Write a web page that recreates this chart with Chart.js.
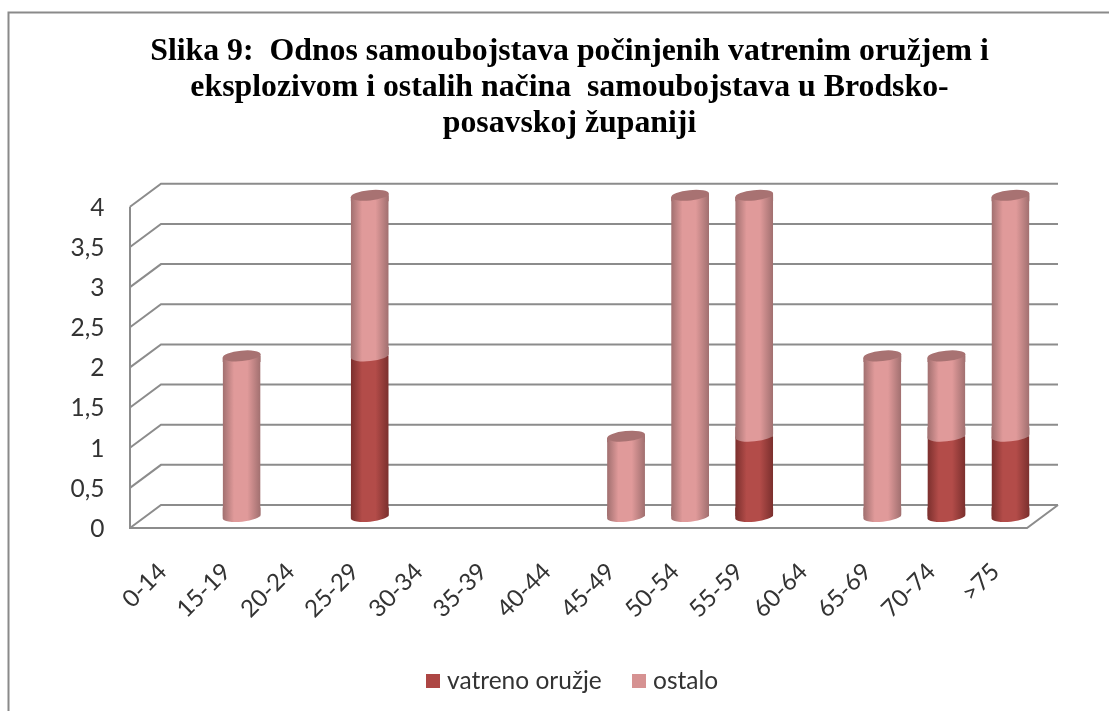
<!DOCTYPE html>
<html>
<head>
<meta charset="utf-8">
<style>
html,body{margin:0;padding:0;background:#fff;overflow:hidden}
canvas{display:block;filter:blur(0.45px)}
</style>
<script src="https://cdn.jsdelivr.net/npm/chart.js@4"></script>
</head>
<body>
<canvas id="c" width="1109" height="711"></canvas>
<script>
const categories = ["0-14","15-19","20-24","25-29","30-34","35-39","40-44","45-49","50-54","55-59","60-64","65-69","70-74",">75"];
const vatrenoOruzje = [0,0,0,2,0,0,0,0,0,1,0,0,1,1];
const ostalo = [0,2,0,2,0,0,0,1,4,3,0,2,1,3];
const seriesNames = ["vatreno oružje","ostalo"];
const titleLines = ["Slika 9:  Odnos samoubojstava počinjenih vatrenim oružjem i","eksplozivom i ostalih načina  samoubojstava u Brodsko-","posavskoj županiji"];

const DX = 15.5, DY = 11.5;      // half depth of the 3D box
const RX = 19, RY = 5.2, TILT = -0.1;
const BAR_PCT = 38 / 64.07;
const GRID = "#8c8c8c";
const palette = [
  {flat:"#ad4644", edge:"#7a2f2d", mid:"#b34c49", top:"#8a3a38"},
  {flat:"#d69292", edge:"#a06f6f", mid:"#e09a9a", top:"#a87272"}
];

function sideGradient(ctx, x, s){
  const g = ctx.createLinearGradient(x-RX,0,x+RX,0);
  g.addColorStop(0, s.edge);
  g.addColorStop(0.3, s.mid);
  g.addColorStop(0.65, s.mid);
  g.addColorStop(1, s.edge);
  return g;
}
function barFill(seriesIndex){
  return function(c){
    const s = palette[seriesIndex];
    if (c.dataIndex === undefined || !c.chart.scales.x) return s.flat;
    const px = c.chart.scales.x.getPixelForValue(c.dataIndex);
    if (!isFinite(px)) return s.flat;
    return sideGradient(c.chart.ctx, px, s);
  };
}
function legendSwatch(color){
  const cv = document.createElement("canvas");
  cv.width = 14; cv.height = 14;
  const g = cv.getContext("2d");
  g.fillStyle = color; g.fillRect(0,0,14,14);
  return cv;
}
const tiltX = RX*Math.cos(TILT), tiltY = RX*Math.sin(TILT);

const box3d = {
  id:"box3d",
  afterLayout(chart){
    // widen the tick label clip of the y axis, nudge the legend
    chart.scales.y.left = 40;
    const lg = chart.legend;
    lg.left += 5; lg.right += 5; lg.top -= 8; lg.bottom -= 8;
  },
  beforeDraw(chart){
    const {ctx, scales:{y}, chartArea:a} = chart;
    ctx.save();
    ctx.fillStyle="#fff"; ctx.fillRect(0,0,chart.width,chart.height);
    // outer frame of the picture
    ctx.strokeStyle="#8a8a8a"; ctx.lineWidth=2;
    ctx.beginPath(); ctx.moveTo(8.5,chart.height); ctx.lineTo(8.5,12.5); ctx.lineTo(chart.width,12.5); ctx.stroke();
    // 3D walls
    const l=a.left, r=a.right;
    ctx.lineWidth=2; ctx.strokeStyle=GRID;
    y.ticks.forEach(t=>{
      const p=y.getPixelForValue(t.value);
      ctx.beginPath();
      ctx.moveTo(l-DX,p+DY); ctx.lineTo(l+DX,p-DY); ctx.lineTo(r+DX,p-DY);
      ctx.stroke();
    });
    const p0=y.getPixelForValue(0), p4=y.getPixelForValue(4);
    ctx.beginPath(); ctx.moveTo(l-DX,p4+DY); ctx.lineTo(l-DX,p0+DY); ctx.lineTo(r-DX,p0+DY); ctx.lineTo(r+DX,p0-DY); ctx.stroke();
    ctx.restore();
  },
  beforeDatasetDraw(chart){
    // cut the flat top of the rectangles along the tilted cap
    const ctx=chart.ctx, metas=[chart.getDatasetMeta(0),chart.getDatasetMeta(1)];
    ctx.save();
    ctx.beginPath();
    categories.forEach((_,i)=>{
      const el=metas[1].data[i];
      if(!ostalo[i] && !vatrenoOruzje[i]) return;
      const top=metas[1].data[i].y, base=metas[0].data[i].base;
      ctx.moveTo(el.x-tiltX,top-tiltY); ctx.lineTo(el.x+tiltX,top+tiltY);
      ctx.lineTo(el.x+tiltX,base+20); ctx.lineTo(el.x-tiltX,base+20); ctx.closePath();
    });
    ctx.clip();
  },
  afterDatasetDraw(chart){ chart.ctx.restore(); },
  afterDatasetsDraw(chart){
    const ctx=chart.ctx, m0=chart.getDatasetMeta(0), m1=chart.getDatasetMeta(1);
    categories.forEach((_,i)=>{
      const v0=vatrenoOruzje[i], v1=ostalo[i];
      if(!v0 && !v1) return;
      const x=m1.data[i].x;
      const base=m0.data[i].base, mid=m0.data[i].y, top=m1.data[i].y;
      // rounded foot
      ctx.fillStyle=sideGradient(ctx,x,palette[v0?0:1]);
      arcDown(ctx,x,base); ctx.fill();
      // light segment overlapping the dark one
      if(v0 && v1){
        ctx.fillStyle=sideGradient(ctx,x,palette[1]);
        arcDown(ctx,x,mid); ctx.fill();
      }
      // cap
      ctx.fillStyle=sideGradient(ctx,x,palette[1]);
      ctx.beginPath();
      ctx.moveTo(x-tiltX,top-tiltY); ctx.lineTo(x+tiltX,top+tiltY);
      ctx.lineTo(x+tiltX,top+6); ctx.lineTo(x-tiltX,top+6); ctx.closePath(); ctx.fill();
      ctx.fillStyle=palette[1].top;
      ctx.beginPath(); ctx.ellipse(x,top,RX,RY,TILT,0,Math.PI*2); ctx.fill();
    });
  }
};
function arcDown(ctx,x,y){
  ctx.beginPath();
  ctx.ellipse(x,y,RX,RY,TILT,0,Math.PI);
  ctx.lineTo(x-tiltX,y-9);
  ctx.lineTo(x+tiltX,y-9);
  ctx.closePath();
}

new Chart(document.getElementById("c"),{
  type:"bar",
  plugins:[box3d],
  data:{
    labels:categories,
    datasets:[
      {label:seriesNames[0],data:vatrenoOruzje,backgroundColor:barFill(0),borderWidth:0,categoryPercentage:BAR_PCT,barPercentage:1},
      {label:seriesNames[1],data:ostalo,backgroundColor:barFill(1),borderWidth:0,categoryPercentage:BAR_PCT,barPercentage:1}
    ]
  },
  options:{
    responsive:false,
    animation:false,
    layout:{padding:{left:96.5,right:66.5,top:0,bottom:0}},
    plugins:{
      tooltip:{enabled:false},
      title:{
        display:true,text:titleLines,color:"#000",
        font:{family:"'Liberation Serif'",size:31.8,weight:"bold",lineHeight:1.13},
        padding:{top:34,bottom:53.5}
      },
      legend:{
        position:"bottom",
        labels:{
          usePointStyle:true,pointStyleWidth:4,boxHeight:14,padding:35,color:"#333",
          font:{family:"Lato",size:24.5},
          generateLabels(chart){
            return seriesNames.map((name,i)=>({
              text:name,datasetIndex:i,hidden:false,
              fontColor:"#333",lineWidth:0,
              fillStyle:palette[i].flat,strokeStyle:palette[i].flat,
              pointStyle:legendSwatch(palette[i].flat)
            }));
          }
        }
      }
    },
    scales:{
      x:{
        stacked:true,
        afterFit(s){ const lh = s.chart.legend ? s.chart.legend.height : 45; s.height = 711 - 516.5 - lh; },
        grid:{display:false},border:{display:false},
        ticks:{
          autoSkip:false,minRotation:45,maxRotation:45,color:"#333",padding:33,labelOffset:-15,
          font:{family:"Lato",size:24}
        }
      },
      y:{
        stacked:true,min:0,max:4,
        afterFit(s){ s.width = 49; },
        grid:{display:false},border:{display:false},
        ticks:{
          stepSize:0.5,color:"#333",padding:33,labelOffset:DY+1,
          font:{family:"Lato",size:24.5},
          callback:v=>String(v).replace(".",",")
        }
      }
    }
  }
});
</script>
</body>
</html>
